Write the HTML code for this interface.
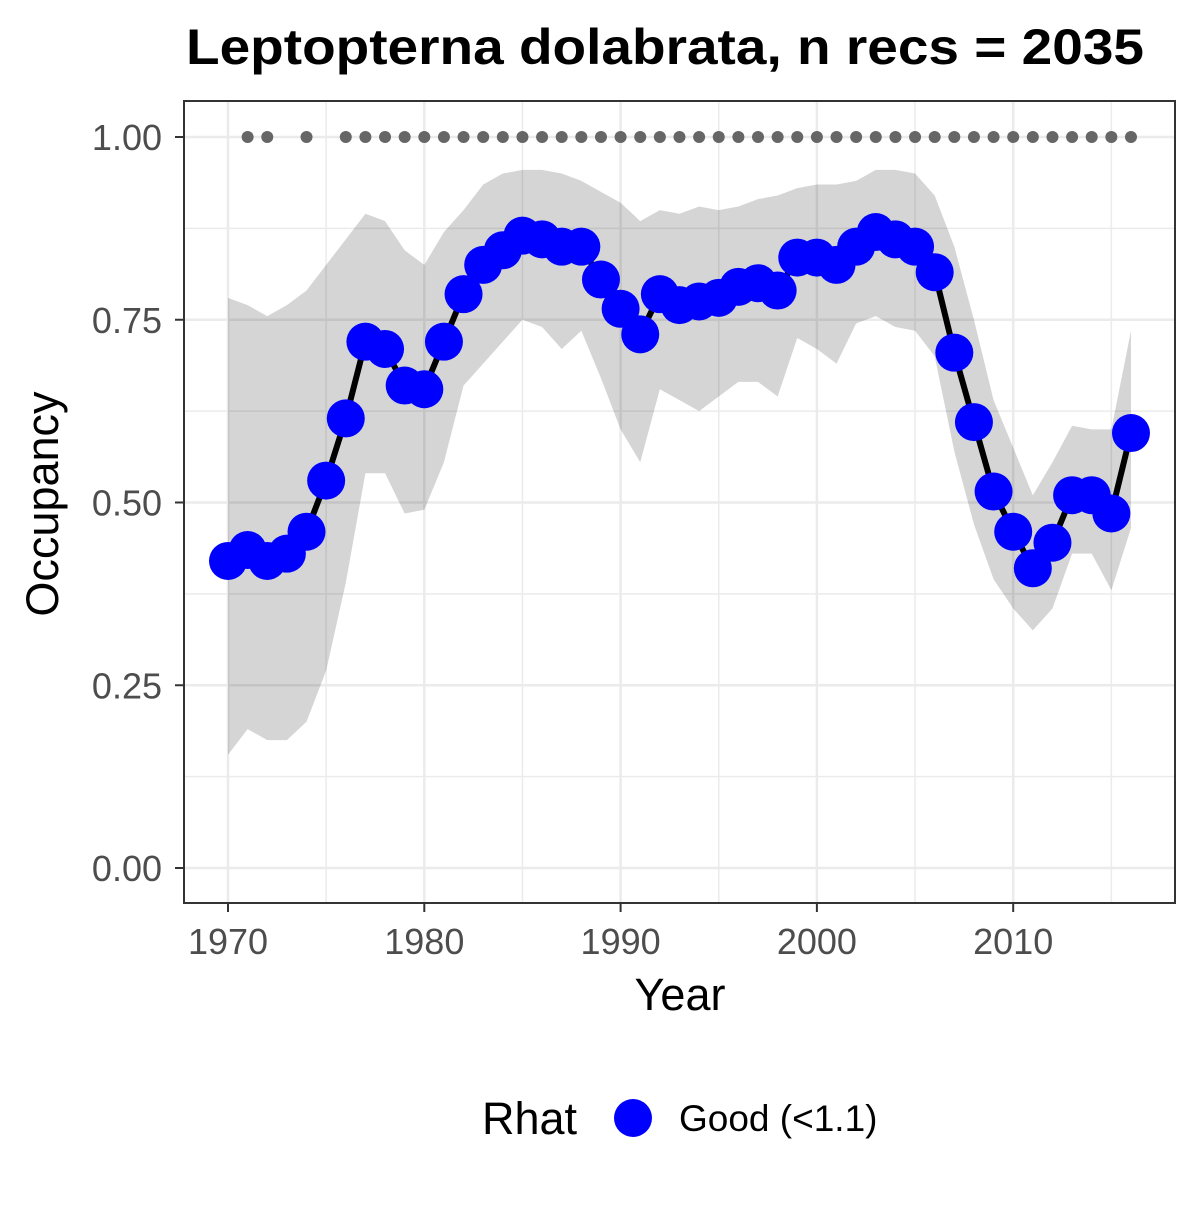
<!DOCTYPE html>
<html><head><meta charset="utf-8"><style>
body{margin:0;background:#fff;}
svg text{font-family:"Liberation Sans",Arial,sans-serif;}
</style></head><body>
<svg id="chart" width="1200" height="1200" xmlns="http://www.w3.org/2000/svg">
<rect width="1200" height="1200" fill="#fff"/>
<text x="665" y="64" font-size="50" font-weight="bold" text-anchor="middle" textLength="958" lengthAdjust="spacingAndGlyphs">Leptopterna dolabrata, n recs = 2035</text>
<g id="grid"></g>
<g id="band"></g>
<g id="line"></g>
<g id="dots"></g>
<g id="pts"></g>
<rect x="184" y="101" width="991" height="802" fill="none" stroke="#333" stroke-width="2"/>
<g id="axes"></g>
<text x="680" y="1010" font-size="45" text-anchor="middle">Year</text>
<text transform="translate(58,504) rotate(-90)" font-size="45" text-anchor="middle">Occupancy</text>
<g>
<text x="482" y="1134" font-size="45">Rhat</text>
<circle cx="633" cy="1118" r="19" fill="#0000ff"/>
<text x="679" y="1131" font-size="37">Good (&lt;1.1)</text>
</g>
</svg>
<script>
const years=[1970,1971,1972,1973,1974,1975,1976,1977,1978,1979,1980,1981,1982,1983,1984,1985,1986,1987,1988,1989,1990,1991,1992,1993,1994,1995,1996,1997,1998,1999,2000,2001,2002,2003,2004,2005,2006,2007,2008,2009,2010,2011,2012,2013,2014,2015,2016];
const occupancy=[0.42,0.435,0.42,0.43,0.46,0.53,0.615,0.72,0.71,0.66,0.655,0.72,0.785,0.825,0.845,0.865,0.86,0.85,0.85,0.805,0.765,0.73,0.785,0.77,0.775,0.78,0.795,0.8,0.79,0.835,0.835,0.825,0.85,0.87,0.86,0.85,0.815,0.705,0.61,0.515,0.46,0.41,0.445,0.51,0.51,0.485,0.595];
const upper=[0.78,0.77,0.755,0.77,0.79,0.825,0.86,0.895,0.885,0.845,0.825,0.87,0.9,0.935,0.95,0.955,0.955,0.95,0.94,0.925,0.91,0.885,0.9,0.895,0.905,0.9,0.905,0.915,0.92,0.93,0.935,0.935,0.94,0.955,0.955,0.95,0.92,0.85,0.75,0.64,0.575,0.51,0.555,0.605,0.6,0.6,0.735];
const lower=[0.155,0.19,0.175,0.175,0.2,0.27,0.39,0.54,0.54,0.485,0.49,0.555,0.66,0.69,0.72,0.75,0.74,0.71,0.735,0.67,0.6,0.555,0.655,0.64,0.625,0.645,0.665,0.665,0.645,0.725,0.71,0.69,0.745,0.755,0.74,0.735,0.7,0.57,0.47,0.395,0.355,0.325,0.355,0.43,0.43,0.38,0.465];
const dataYears=[1971,1972,1974,1976,1977,1978,1979,1980,1981,1982,1983,1984,1985,1986,1987,1988,1989,1990,1991,1992,1993,1994,1995,1996,1997,1998,1999,2000,2001,2002,2003,2004,2005,2006,2007,2008,2009,2010,2011,2012,2013,2014,2015,2016];
const xTicks=[1970,1980,1990,2000,2010];
const yTicks=[0,0.25,0.5,0.75,1];
const yTickLabels=["0.00","0.25","0.50","0.75","1.00"];

const NS="http://www.w3.org/2000/svg";
const X=y=>228+(y-1970)*19.63;
const Y=v=>868-v*731;
function mk(tag,attrs,parent){const e=document.createElementNS(NS,tag);for(const k in attrs)e.setAttribute(k,attrs[k]);document.getElementById(parent).appendChild(e);return e;}

for(let i=0;i<xTicks.length;i++){
  const l=mk('line',{x1:X(xTicks[i]),x2:X(xTicks[i]),y1:101,y2:903,stroke:'#ebebeb','stroke-width':2.5},'grid');
  
  
  if(i<xTicks.length-1){const m=(xTicks[i]+xTicks[i+1])/2;
    const l2=mk('line',{x1:X(m),x2:X(m),y1:101,y2:903,stroke:'#ebebeb','stroke-width':1.5},'grid');
    
    }
}
{const l2=mk('line',{x1:X(2015),x2:X(2015),y1:101,y2:903,stroke:'#ebebeb','stroke-width':1.5},'grid');

}
for(let i=0;i<yTicks.length;i++){
  const l=mk('line',{x1:184,x2:1175,y1:Y(yTicks[i]),y2:Y(yTicks[i]),stroke:'#ebebeb','stroke-width':2.5},'grid');
  
  
  if(i<yTicks.length-1){const m=(yTicks[i]+yTicks[i+1])/2;
    const l2=mk('line',{x1:184,x2:1175,y1:Y(m),y2:Y(m),stroke:'#ebebeb','stroke-width':1.5},'grid');
    
    }
}
let d='';
years.forEach((y,i)=>{d+=(i?'L':'M')+X(y)+','+Y(upper[i]);});
for(let i=years.length-1;i>=0;i--)d+='L'+X(years[i])+','+Y(lower[i]);
const band=mk('path',{d:d+'Z',fill:'#000','fill-opacity':0.165},'band');


const ln=mk('polyline',{points:years.map((y,i)=>X(y)+','+Y(occupancy[i])).join(' '),fill:'none',stroke:'#000','stroke-width':6},'line');


dataYears.forEach(y=>{const c=mk('circle',{cx:X(y),cy:Y(1),r:6,fill:'#666'},'dots');

});
years.forEach((y,i)=>{const c=mk('circle',{cx:X(y),cy:Y(occupancy[i]),r:19,fill:'#0000ff'},'pts');

});
xTicks.forEach(t=>{
  const tk=mk('line',{x1:X(t),x2:X(t),y1:903,y2:912,stroke:'#333','stroke-width':2},'axes');
  
  
  const tx=mk('text',{x:X(t),y:954,'font-size':36,fill:'#4d4d4d','text-anchor':'middle'},'axes');
  tx.textContent=t;
  
  
});
yTicks.forEach((t,i)=>{
  const tk=mk('line',{x1:175,x2:184,y1:Y(t),y2:Y(t),stroke:'#333','stroke-width':2},'axes');
  
  
  const tx=mk('text',{x:162,y:Y(t)+13,'font-size':36,fill:'#4d4d4d','text-anchor':'end'},'axes');
  tx.textContent=yTickLabels[i];
  
  
});
</script>
</body></html>
